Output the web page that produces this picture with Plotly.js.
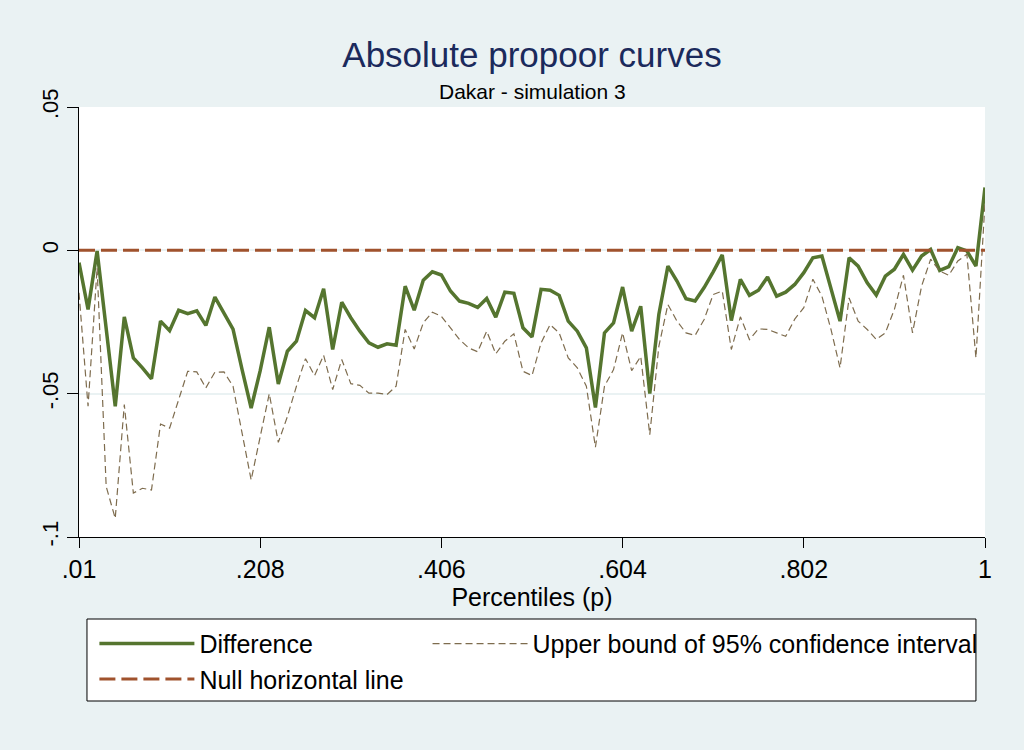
<!DOCTYPE html>
<html>
<head>
<meta charset="utf-8">
<script src="https://cdn.plot.ly/plotly-3.0.1.min.js"></script>
<style>
  html, body { margin: 0; padding: 0; background: #EAF2F3; }
  #chart { width: 1024px; height: 750px; }
</style>
</head>
<body>
<div id="chart"></div>
<script>
// Percentile grid (p), 101 points from .01 to 1
const percentiles = [
  0.01, 0.0199, 0.0298, 0.0397, 0.0496, 0.0595, 0.0694, 0.0793, 0.0892, 0.0991,
  0.109, 0.1189, 0.1288, 0.1387, 0.1486, 0.1585, 0.1684, 0.1783, 0.1882, 0.1981,
  0.208, 0.2179, 0.2278, 0.2377, 0.2476, 0.2575, 0.2674, 0.2773, 0.2872, 0.2971,
  0.307, 0.3169, 0.3268, 0.3367, 0.3466, 0.3565, 0.3664, 0.3763, 0.3862, 0.3961,
  0.406, 0.4159, 0.4258, 0.4357, 0.4456, 0.4555, 0.4654, 0.4753, 0.4852, 0.4951,
  0.505, 0.5149, 0.5248, 0.5347, 0.5446, 0.5545, 0.5644, 0.5743, 0.5842, 0.5941,
  0.604, 0.6139, 0.6238, 0.6337, 0.6436, 0.6535, 0.6634, 0.6733, 0.6832, 0.6931,
  0.703, 0.7129, 0.7228, 0.7327, 0.7426, 0.7525, 0.7624, 0.7723, 0.7822, 0.7921,
  0.802, 0.8119, 0.8218, 0.8317, 0.8416, 0.8515, 0.8614, 0.8713, 0.8812, 0.8911,
  0.901, 0.9109, 0.9208, 0.9307, 0.9406, 0.9505, 0.9604, 0.9703, 0.9802, 0.9901,
  1.0
];

// Difference curve
const difference = [
  -0.0043, -0.0206, -0.0002, -0.0268, -0.0544, -0.0232, -0.0375, -0.0410, -0.0448, -0.0247,
  -0.0280, -0.0209, -0.0221, -0.0211, -0.0262, -0.0163, -0.0220, -0.0275, -0.0416, -0.0550,
  -0.0420, -0.0268, -0.0466, -0.0352, -0.0317, -0.0210, -0.0235, -0.0134, -0.0346, -0.0181,
  -0.0235, -0.0282, -0.0323, -0.0338, -0.0326, -0.0331, -0.0125, -0.0209, -0.0104, -0.0075,
  -0.0086, -0.0142, -0.0177, -0.0185, -0.0199, -0.0168, -0.0233, -0.0146, -0.0150, -0.0270,
  -0.0302, -0.0136, -0.0139, -0.0157, -0.0247, -0.0282, -0.0340, -0.0548, -0.0288, -0.0253,
  -0.0128, -0.0282, -0.0195, -0.0500, -0.0224, -0.0055, -0.0107, -0.0169, -0.0177, -0.0130,
  -0.0075, -0.0016, -0.0245, -0.0101, -0.0157, -0.0139, -0.0093, -0.0160, -0.0146, -0.0119,
  -0.0078, -0.0026, -0.0020, -0.0133, -0.0247, -0.0026, -0.0055, -0.0113, -0.0156, -0.0090,
  -0.0066, -0.0014, -0.0069, -0.0020, 0.0003, -0.0070, -0.0057, 0.0009, -0.0002, -0.0055,
  0.0219
];

// Upper bound of 95% confidence interval
const upperBound = [
  -0.0148, -0.0544, -0.0061, -0.0824, -0.0935, -0.0538, -0.0847, -0.0830, -0.0836, -0.0606,
  -0.0620, -0.0521, -0.0422, -0.0424, -0.0480, -0.0425, -0.0424, -0.0474, -0.0638, -0.0801,
  -0.0650, -0.0500, -0.0670, -0.0580, -0.0474, -0.0378, -0.0437, -0.0366, -0.0486, -0.0381,
  -0.0465, -0.0471, -0.0498, -0.0498, -0.0503, -0.0474, -0.0276, -0.0344, -0.0253, -0.0216,
  -0.0230, -0.0270, -0.0311, -0.0340, -0.0354, -0.0282, -0.0361, -0.0317, -0.0291, -0.0422,
  -0.0437, -0.0323, -0.0259, -0.0288, -0.0375, -0.0410, -0.0474, -0.0687, -0.0474, -0.0416,
  -0.0288, -0.0420, -0.0370, -0.0643, -0.0335, -0.0189, -0.0247, -0.0288, -0.0297, -0.0241,
  -0.0154, -0.0142, -0.0346, -0.0232, -0.0311, -0.0274, -0.0276, -0.0288, -0.0300, -0.0240,
  -0.0200, -0.0101, -0.0160, -0.0276, -0.0410, -0.0166, -0.0247, -0.0276, -0.0311, -0.0288,
  -0.0206, -0.0087, -0.0288, -0.0125, -0.0031, -0.0072, -0.0087, -0.0037, -0.0014, -0.0375,
  0.0167
];

// Null horizontal line
const nullX = [0.01, 1.0];
const nullY = [0, 0];

// Axis ticks
const xTickVals = [0.01, 0.208, 0.406, 0.604, 0.802, 1];
const xTickText = ['.01', '.208', '.406', '.604', '.802', '1'];
const yTickVals = [-0.1, -0.05, 0, 0.05];
const yTickText = ['-.1', '-.05', '0', '.05'];

const FONT = '"Liberation Sans", Arial, sans-serif';

const traces = [
  {
    x: percentiles, y: difference, type: 'scatter', mode: 'lines',
    name: 'Difference', legend: 'legend',
    line: { color: '#55752F', width: 3.5 }
  },
  {
    x: percentiles, y: upperBound, type: 'scatter', mode: 'lines',
    name: 'Upper bound of 95% confidence interval', legend: 'legend2',
    line: { color: '#7E6C4E', width: 1.2, dash: '7px,4px' }
  },
  {
    x: nullX, y: nullY, type: 'scatter', mode: 'lines',
    name: 'Null horizontal line', legend: 'legend',
    line: { color: '#A0522D', width: 3, dash: '16px,6px' }
  }
];

const legendCommon = {
  orientation: 'v',
  xanchor: 'left', xref: 'paper',
  y: -0.195, yanchor: 'top', yref: 'paper',
  bgcolor: 'rgba(0,0,0,0)', borderwidth: 0,
  font: { family: FONT, size: 25, color: '#000000' },
  itemwidth: 95,
  traceorder: 'normal'
};

const layout = {
  width: 1024, height: 750,
  paper_bgcolor: '#EAF2F3',
  plot_bgcolor: '#FFFFFF',
  margin: { l: 79, r: 39, t: 107, b: 213 },
  font: { family: FONT, color: '#000000' },
  title: {
    text: 'Absolute propoor curves',
    font: { family: FONT, size: 35, color: '#1B2A5C' },
    x: 0.5, xref: 'paper', xanchor: 'center',
    y: 0.927, yref: 'container', yanchor: 'middle'
  },
  annotations: [
    {
      text: 'Dakar - simulation 3', showarrow: false,
      xref: 'paper', yref: 'paper', x: 0.5, y: 1.035,
      xanchor: 'center', yanchor: 'middle',
      font: { family: FONT, size: 21, color: '#000000' }
    }
  ],
  xaxis: {
    range: [0.01, 1],
    tickmode: 'array', tickvals: xTickVals, ticktext: xTickText,
    ticks: 'outside', ticklen: 10, tickwidth: 1, tickcolor: '#000000',
    showline: true, linecolor: '#000000', linewidth: 1,
    showgrid: false, zeroline: false,
    tickfont: { family: FONT, size: 25, color: '#000000' },
    title: { text: 'Percentiles (p)', font: { family: FONT, size: 25, color: '#000000' }, standoff: 0 }
  },
  yaxis: {
    range: [-0.1, 0.05],
    tickmode: 'array', tickvals: yTickVals, ticktext: yTickText,
    ticks: 'outside', ticklen: 11, tickwidth: 1, tickcolor: '#000000',
    tickangle: -90,
    showline: true, linecolor: '#000000', linewidth: 1,
    showgrid: true, gridcolor: '#EAF2F3', gridwidth: 2,
    zeroline: false,
    tickfont: { family: FONT, size: 22, color: '#000000' }
  },
  showlegend: true,
  legend: Object.assign({}, legendCommon, { x: 0.017 }),
  legend2: Object.assign({}, legendCommon, { x: 0.3847 }),
  shapes: [
    {
      type: 'rect', xref: 'paper', yref: 'paper',
      x0: 0.0088, x1: 0.990, y0: -0.3814, y1: -0.1907,
      line: { color: '#000000', width: 1 }, fillcolor: '#FFFFFF', layer: 'below'
    }
  ]
};

Plotly.newPlot('chart', traces, layout, { displayModeBar: false, staticPlot: true });
</script>
</body>
</html>
